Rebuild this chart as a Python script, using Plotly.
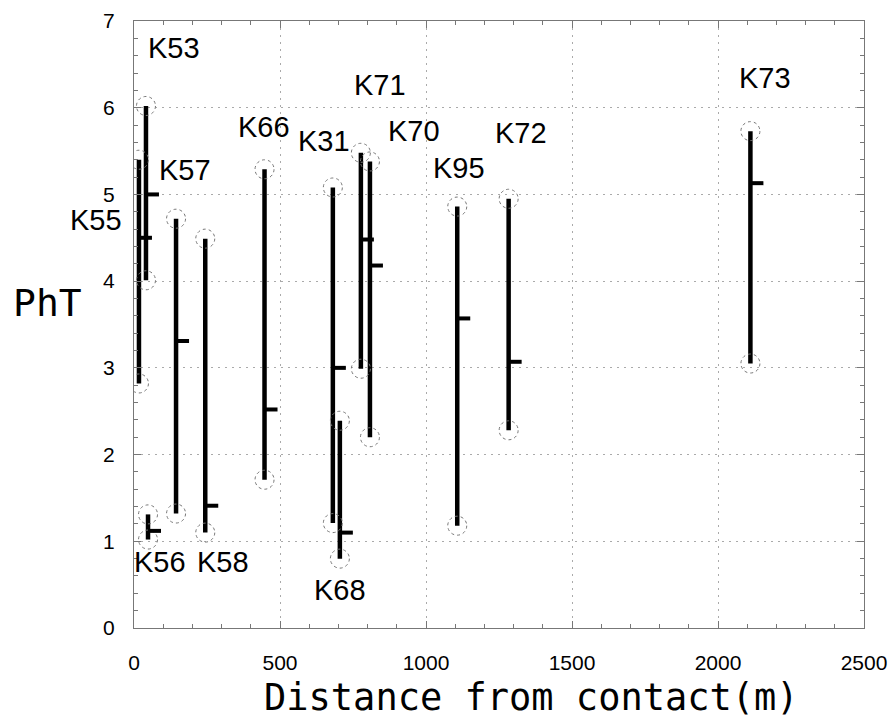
import plotly.graph_objects as go

# Samples: distance from contact (m), PhT minimum, maximum and mean
samples = ["K53", "K55", "K56", "K57", "K58", "K66", "K31", "K68", "K71", "K70", "K95", "K72", "K73"]
distance = [41, 17, 48, 144, 244, 447, 681, 705, 777, 808, 1107, 1283, 2111]
pht_min = [4.01, 2.82, 1.02, 1.32, 1.10, 1.71, 1.21, 0.80, 2.99, 2.20, 1.18, 2.28, 3.05]
pht_max = [6.02, 5.40, 1.31, 4.72, 4.49, 5.29, 5.08, 2.39, 5.48, 5.38, 4.86, 4.95, 5.73]
pht_mean = [5.00, 4.50, 1.12, 3.31, 1.41, 2.52, 3.00, 1.10, 4.48, 4.18, 3.57, 3.07, 5.13]

x_ticks = [0, 500, 1000, 1500, 2000, 2500]
y_ticks = [0, 1, 2, 3, 4, 5, 6, 7]

# Label placement: which end of the range it hangs from, and a pixel shift
label_anchor = {
    "K53": ("max", 28, 58), "K55": ("max", -43, -60), "K56": ("min", 12, -22),
    "K57": ("max", 9, 49), "K58": ("min", 18, -29), "K66": ("max", -1, 42),
    "K31": ("max", -9, 46), "K68": ("min", 0, -31), "K71": ("max", 19, 68),
    "K70": ("max", 44, 30), "K95": ("max", 2, 39), "K72": ("max", 12, 66),
    "K73": ("max", 15, 53),
}

line_x, line_y = [], []
for d, lo, hi in zip(distance, pht_min, pht_max):
    line_x += [d, d, None]
    line_y += [lo, hi, None]

fig = go.Figure()
fig.add_trace(go.Scatter(x=line_x, y=line_y, mode="lines",
                         line=dict(color="black", width=4.5), hoverinfo="skip",
                         showlegend=False))

shapes = []
for d, lo, hi, m in zip(distance, pht_min, pht_max, pht_mean):
    for v in (lo, hi):
        shapes.append(dict(type="circle", xref="x", yref="y",
                           xsizemode="pixel", ysizemode="pixel",
                           xanchor=d, yanchor=v, x0=-9.5, x1=9.5, y0=-9.5, y1=9.5,
                           line=dict(color="#777", width=1, dash="dot")))
    shapes.append(dict(type="line", xref="x", yref="y", xsizemode="pixel",
                       xanchor=d, x0=0, x1=13, y0=m, y1=m,
                       line=dict(color="black", width=4)))

annotations = []
for name, d, lo, hi in zip(samples, distance, pht_min, pht_max):
    end, dx, dy = label_anchor[name]
    annotations.append(dict(x=d, y=hi if end == "max" else lo, xref="x", yref="y",
                            text=name, showarrow=False, xshift=dx, yshift=dy,
                            xanchor="center", yanchor="middle",
                            font=dict(family="Liberation Sans, Arial", size=29,
                                      color="black")))

annotations.append(dict(text="PhT", xref="paper", yref="paper", x=-0.119, y=0.535,
                        xanchor="center", yanchor="middle", showarrow=False,
                        font=dict(family="DejaVu Sans Mono", size=38, color="black")))
annotations.append(dict(text="Distance from contact(m)", xref="paper", yref="paper",
                        x=0.545, y=-0.114, xanchor="center", yanchor="middle",
                        showarrow=False,
                        font=dict(family="DejaVu Sans Mono", size=37, color="black")))

axis_common = dict(
    showline=True, linecolor="#777", linewidth=1, mirror="allticks",
    ticks="inside", ticklen=7, tickcolor="#777", tickwidth=1,
    showgrid=True, gridcolor="#aaa", gridwidth=1, griddash="2px,5px",
    zeroline=False, automargin=False,
    tickfont=dict(family="Liberation Sans, Arial", size=21, color="black"),
)

fig.update_layout(
    width=890, height=722,
    margin=dict(l=134, r=26, t=21, b=94),
    paper_bgcolor="white", plot_bgcolor="white",
    shapes=shapes, annotations=annotations,
    xaxis=dict(range=[0, 2500], tickvals=x_ticks, ticktext=[str(t) for t in x_ticks],
               minor=dict(dtick=100, ticks="inside", ticklen=4, tickcolor="#777",
                          showgrid=False),
               ticklabelstandoff=16, **axis_common),
    yaxis=dict(range=[0, 7], tickvals=y_ticks, ticktext=[str(t) for t in y_ticks],
               minor=dict(dtick=0.2, ticks="inside", ticklen=4, tickcolor="#777",
                          showgrid=False),
               ticklabelstandoff=14, **axis_common),
)

fig.write_html("out.html")
